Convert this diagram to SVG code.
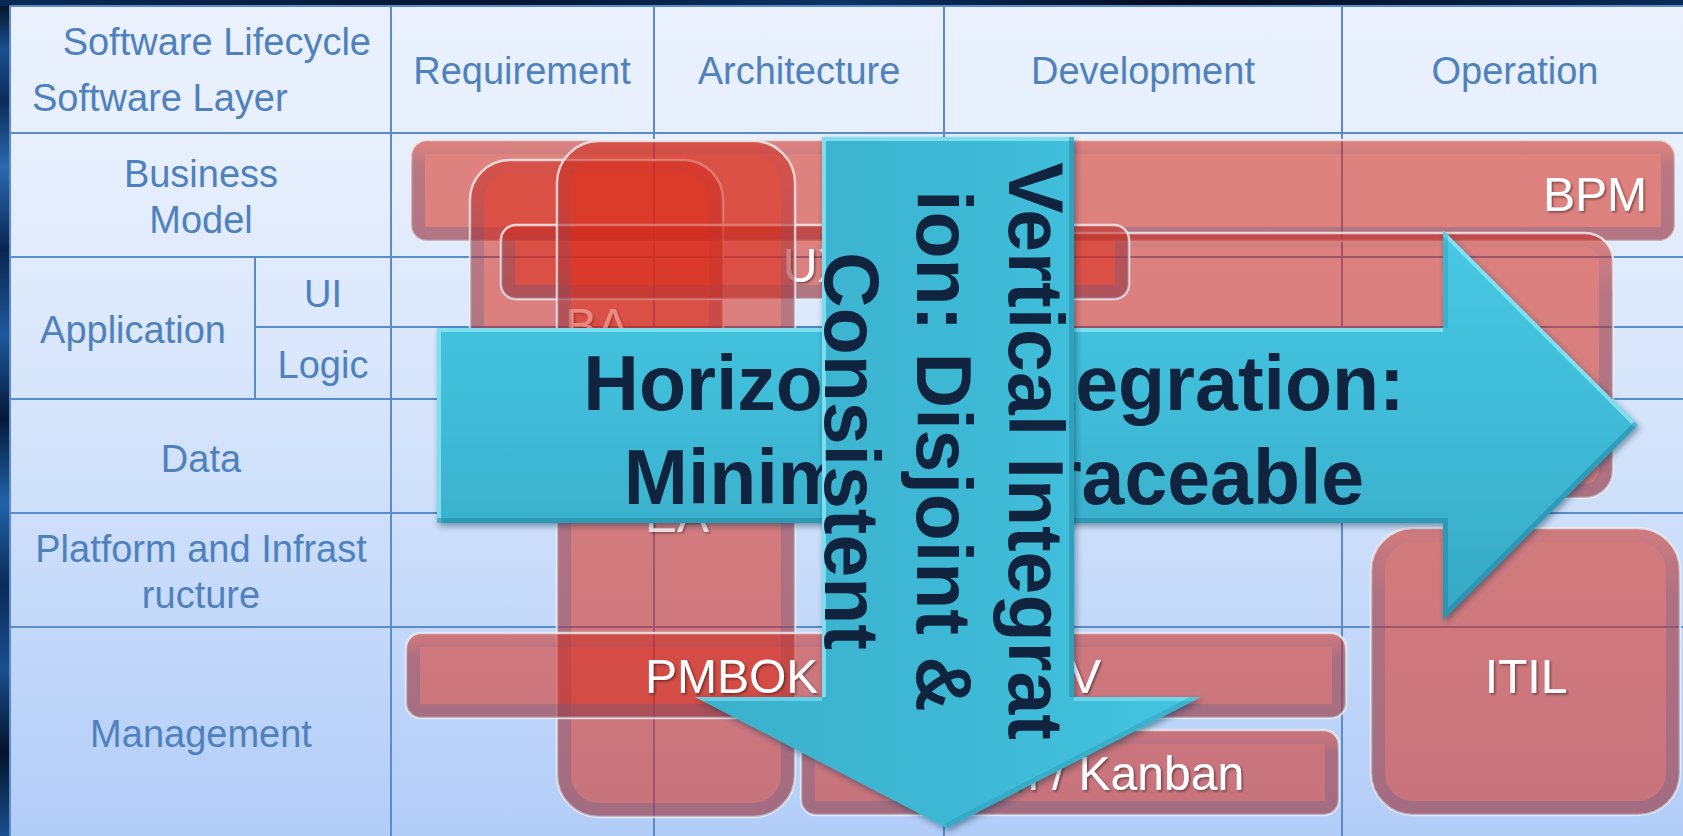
<svg xmlns="http://www.w3.org/2000/svg" width="1683" height="836" viewBox="0 0 1683 836">
<defs>
  <linearGradient id="leftStrip" x1="0" y1="0" x2="0" y2="1">
    <stop offset="0" stop-color="#031022"/>
    <stop offset="0.06" stop-color="#1A4F8F"/>
    <stop offset="0.12" stop-color="#0B2C5A"/>
    <stop offset="0.2" stop-color="#2A6AB0"/>
    <stop offset="0.3" stop-color="#0A2550"/>
    <stop offset="0.4" stop-color="#1D5A9C"/>
    <stop offset="0.5" stop-color="#06183A"/>
    <stop offset="0.6" stop-color="#2064A8"/>
    <stop offset="0.7" stop-color="#0B2B58"/>
    <stop offset="0.8" stop-color="#1A4F8F"/>
    <stop offset="0.9" stop-color="#03132A"/>
    <stop offset="1" stop-color="#1A4F8F"/>
  </linearGradient>
  <linearGradient id="topStrip" x1="0" y1="0" x2="1" y2="0">
    <stop offset="0" stop-color="#0A2A55"/>
    <stop offset="0.3" stop-color="#041530"/>
    <stop offset="0.5" stop-color="#0B3366"/>
    <stop offset="0.7" stop-color="#020C1E"/>
    <stop offset="1" stop-color="#0A2A55"/>
  </linearGradient>
  <linearGradient id="tableGrad" gradientUnits="userSpaceOnUse" x1="0" y1="6" x2="0" y2="836">
    <stop offset="0" stop-color="#EAF1FD"/>
    <stop offset="0.18" stop-color="#E7EFFD"/>
    <stop offset="0.5" stop-color="#D5E4FB"/>
    <stop offset="1" stop-color="#B2CDF8"/>
  </linearGradient>
  <linearGradient id="bandGrad" x1="0" y1="0" x2="0" y2="1">
    <stop offset="0" stop-color="#505A8C" stop-opacity="0.04"/>
    <stop offset="0.22" stop-color="#505A8C" stop-opacity="0.26"/>
    <stop offset="1" stop-color="#505A8C" stop-opacity="0.3"/>
  </linearGradient>
  <linearGradient id="arrowH" gradientUnits="userSpaceOnUse" x1="0" y1="230" x2="0" y2="620">
    <stop offset="0" stop-color="#47C8E3"/>
    <stop offset="0.5" stop-color="#3FBBD7"/>
    <stop offset="1" stop-color="#36A8C4"/>
  </linearGradient>
  <linearGradient id="arrowV" gradientUnits="userSpaceOnUse" x1="695" y1="0" x2="1201" y2="0">
    <stop offset="0" stop-color="#3AB1CC"/>
    <stop offset="0.5" stop-color="#3DB8D4"/>
    <stop offset="1" stop-color="#45C5E0"/>
  </linearGradient>
  <filter id="arrowShadow" x="-10%" y="-10%" width="120%" height="130%">
    <feDropShadow dx="2" dy="3" stdDeviation="3" flood-color="#0A2A40" flood-opacity="0.45"/>
  </filter>
  <filter id="txtShadow" x="-10%" y="-20%" width="120%" height="140%">
    <feDropShadow dx="1.5" dy="1.5" stdDeviation="1" flood-color="#000" flood-opacity="0.45"/>
  </filter>
  <clipPath id="clipH"><polygon points="437,328 1443,328 1443,230 1638,425 1443,620 1443,523 437,523"/></clipPath>
  <clipPath id="clipV"><polygon points="822,137 1074,137 1074,697 1201,697 947,828 695,697 822,697"/></clipPath>
</defs>
<style>
  .grid{stroke:#5B8BC8;stroke-width:2;fill:none}
  .lbl{font-family:"Liberation Sans",Arial,sans-serif;font-size:38px;fill:#4F81BD;text-anchor:middle}
  .box{fill:#D82816;fill-opacity:0.545;stroke:#EDEDED;stroke-opacity:0.85;stroke-width:2.5}
  .band{fill:none;stroke:url(#bandGrad);stroke-width:14}
  .btxt{font-family:"Liberation Sans",Arial,sans-serif;font-size:48px;fill:#FFFFFF;text-anchor:middle;filter:url(#txtShadow)}
  .atxt{font-family:"Liberation Sans",Arial,sans-serif;font-weight:bold;font-size:77px;fill:#10243F;text-anchor:middle}
  .hi{fill:none;stroke:#93EBF8;stroke-opacity:0.75;stroke-width:8}
  .lo{fill:none;stroke:#1A7E9C;stroke-opacity:0.45;stroke-width:10}
</style>

<g id="background">
  <rect x="0" y="0" width="1683" height="836" fill="#061A38"/>
  <rect x="0" y="0" width="10" height="836" fill="url(#leftStrip)"/>
  <rect x="0" y="0" width="1683" height="6" fill="url(#topStrip)"/>
</g>

<g id="table">
  <rect x="10" y="6" width="1673" height="830" fill="url(#tableGrad)"/>
  <g class="grid">
    <line x1="10" y1="6" x2="1683" y2="6"/>
    <line x1="10" y1="133" x2="1683" y2="133"/>
    <line x1="10" y1="257" x2="1683" y2="257"/>
    <line x1="255" y1="327" x2="1683" y2="327"/>
    <line x1="10" y1="399" x2="1683" y2="399"/>
    <line x1="10" y1="513" x2="1683" y2="513"/>
    <line x1="10" y1="627" x2="1683" y2="627"/>
    <line x1="10" y1="6" x2="10" y2="836"/>
    <line x1="391" y1="6" x2="391" y2="836"/>
    <line x1="654" y1="6" x2="654" y2="836"/>
    <line x1="944" y1="6" x2="944" y2="836"/>
    <line x1="1342" y1="6" x2="1342" y2="836"/>
    <line x1="255" y1="257" x2="255" y2="399"/>
  </g>
</g>

<g id="headers">
  <text class="lbl" x="371" y="55" style="text-anchor:end">Software Lifecycle</text>
  <text class="lbl" x="32" y="111" style="text-anchor:start">Software Layer</text>
  <text class="lbl" x="522" y="84">Requirement</text>
  <text class="lbl" x="799" y="84">Architecture</text>
  <text class="lbl" x="1143" y="84">Development</text>
  <text class="lbl" x="1515" y="84">Operation</text>
</g>

<g id="row-labels">
  <text class="lbl" x="201" y="187">Business</text>
  <text class="lbl" x="201" y="233">Model</text>
  <text class="lbl" x="133" y="343">Application</text>
  <text class="lbl" x="323" y="307">UI</text>
  <text class="lbl" x="323" y="378">Logic</text>
  <text class="lbl" x="201" y="472">Data</text>
  <text class="lbl" x="201" y="562">Platform and Infrast</text>
  <text class="lbl" x="201" y="608">ructure</text>
  <text class="lbl" x="201" y="747">Management</text>
</g>

<g id="box-bpm">
  <rect class="box" x="411" y="140" width="1264" height="101" rx="16"/>
  <rect class="band" x="418" y="147" width="1250" height="87" rx="9"/>
  <text class="btxt" x="1595" y="211">BPM</text>
</g>

<g id="box-dev">
  <rect class="box" x="880" y="233" width="733" height="265" rx="28"/>
  <rect class="band" x="887" y="240" width="719" height="251" rx="21"/>
</g>

<g id="box-ba">
  <rect class="box" x="470" y="160" width="253" height="345" rx="40"/>
  <rect class="band" x="477" y="167" width="239" height="331" rx="33"/>
  <text class="btxt" x="597" y="342">BA</text>
</g>

<g id="box-ux">
  <rect class="box" x="501" y="225" width="628" height="74" rx="15"/>
  <rect class="band" x="508" y="232" width="614" height="60" rx="8"/>
  <text class="btxt" x="816" y="282">UX</text>
</g>

<g id="box-ea">
  <rect class="box" x="557" y="141" width="238" height="676" rx="42"/>
  <rect class="band" x="564" y="148" width="224" height="662" rx="35"/>
  <text class="btxt" x="677" y="532" opacity="0.8">EA</text>
</g>

<g id="box-pmbok">
  <rect class="box" x="406" y="633" width="940" height="85" rx="15"/>
  <rect class="band" x="413" y="640" width="926" height="71" rx="8"/>
  <text class="btxt" x="873" y="693">PMBOK / CMMI-DEV</text>
</g>

<g id="box-scrum">
  <rect class="box" x="801" y="730" width="538" height="85" rx="15"/>
  <rect class="band" x="808" y="737" width="524" height="71" rx="8"/>
  <text class="btxt" x="1072" y="790">Scrum / Kanban</text>
</g>

<g id="box-itil">
  <rect class="box" x="1371" y="528" width="309" height="287" rx="42"/>
  <rect class="band" x="1378" y="535" width="295" height="273" rx="35"/>
  <text class="btxt" x="1526" y="693">ITIL</text>
</g>

<g id="arrows">
  <g id="arrow-horizontal">
    <polygon points="437,328 1443,328 1443,230 1638,425 1443,620 1443,523 437,523" fill="url(#arrowH)" filter="url(#arrowShadow)"/>
    <g clip-path="url(#clipH)">
      <polyline class="hi" points="437,523 437,328 1443,328"/>
      <polyline class="hi" points="1443,230 1638,425"/>
      <polyline class="lo" points="1638,425 1443,620 1443,523 437,523"/>
      <polyline class="lo" points="1443,328 1443,230" style="stroke-opacity:0.25"/>
    </g>
    <text class="atxt" x="994" y="410">Horizontal Integration:</text>
    <text class="atxt" x="994" y="504">Minimal &amp; Traceable</text>
  </g>
  <g id="arrow-vertical">
    <polygon points="822,137 1074,137 1074,697 1201,697 947,828 695,697 822,697" fill="url(#arrowV)" filter="url(#arrowShadow)"/>
    <g clip-path="url(#clipV)">
      <polyline class="hi" points="822,697 822,137 1074,137"/>
      <polyline class="hi" points="695,697 822,697" style="stroke-opacity:0.5"/>
      <polyline class="hi" points="1074,697 1201,697" style="stroke-opacity:0.5"/>
      <polyline class="lo" points="1074,137 1074,697"/>
      <polyline class="lo" points="1201,697 947,828" style="stroke-opacity:0.25"/>
    </g>
    <g class="atxt">
      <text transform="translate(1009,451) rotate(90)">Vertical Integrat</text>
      <text transform="translate(917,451) rotate(90)">ion: Disjoint &amp;</text>
      <text transform="translate(825,451) rotate(90)">Consistent</text>
    </g>
  </g>
</g>
</svg>
